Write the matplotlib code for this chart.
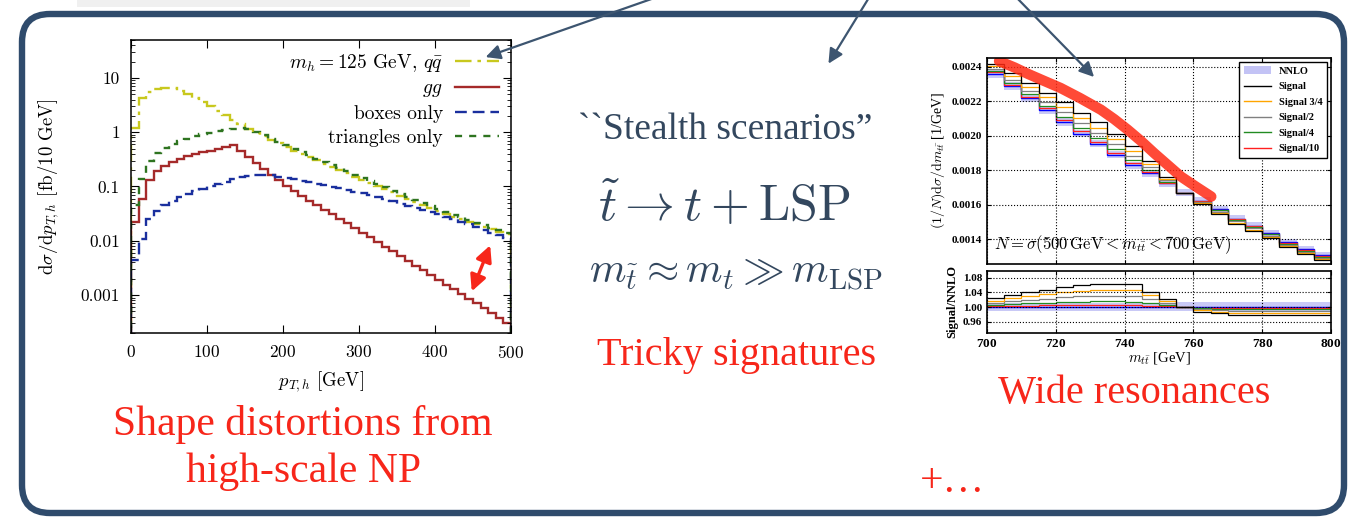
import numpy as np
import matplotlib
matplotlib.use("Agg")
import matplotlib.pyplot as plt
from matplotlib.patches import FancyBboxPatch, Rectangle, Patch
from matplotlib.lines import Line2D
from matplotlib.ticker import FixedLocator, FuncFormatter, LogLocator, NullFormatter

plt.rcParams['mathtext.fontset'] = 'cm'
plt.rcParams['axes.formatter.use_mathtext'] = True

# ---------------- left panel: pT,h spectra (10 GeV bins, 0-500) ----------------
pt_edges = np.arange(0, 510, 10)
sig_qq = [1.2, 4.3, 5.5, 6.3, 6.6, 6.4, 5.8, 5.0, 4.3, 3.6,
          3.0, 2.5, 2.05, 1.7, 1.4, 1.15, 0.98, 0.84, 0.72, 0.62,
          0.53, 0.46, 0.40, 0.35, 0.305, 0.265, 0.23, 0.20, 0.175, 0.152,
          0.132, 0.116, 0.102, 0.089, 0.078, 0.068, 0.060, 0.052, 0.046, 0.040,
          0.035, 0.031, 0.028, 0.025, 0.0225, 0.020, 0.018, 0.0163, 0.0148, 0.0135]
sig_gg = [0.022, 0.06, 0.13, 0.19, 0.24, 0.28, 0.32, 0.36, 0.40, 0.43,
          0.46, 0.50, 0.54, 0.58, 0.45, 0.35, 0.27, 0.21, 0.165, 0.13,
          0.10, 0.082, 0.067, 0.055, 0.045, 0.037, 0.031, 0.025, 0.021, 0.017,
          0.014, 0.0115, 0.0094, 0.0077, 0.0064, 0.0052, 0.0043, 0.0035, 0.0029, 0.0023,
          0.0019, 0.00155, 0.00127, 0.00104, 0.00085, 0.00070, 0.00057, 0.00047, 0.00038, 0.00031]
sig_box = [0.0045, 0.011, 0.025, 0.035, 0.045, 0.055, 0.064, 0.073, 0.082, 0.091,
           0.10, 0.11, 0.12, 0.135, 0.15, 0.158, 0.163, 0.164, 0.16, 0.152,
           0.143, 0.135, 0.127, 0.119, 0.112, 0.105, 0.098, 0.092, 0.086, 0.080,
           0.075, 0.069, 0.063, 0.058, 0.053, 0.048, 0.044, 0.041, 0.037, 0.034,
           0.031, 0.028, 0.025, 0.0225, 0.020, 0.018, 0.0159, 0.0142, 0.0126, 0.0112]
sig_tri = [0.045, 0.14, 0.30, 0.42, 0.52, 0.60, 0.68, 0.76, 0.84, 0.91,
           0.98, 1.04, 1.10, 1.15, 1.18, 1.16, 1.02, 0.88, 0.76, 0.66,
           0.57, 0.49, 0.43, 0.375, 0.325, 0.285, 0.245, 0.215, 0.19, 0.165,
           0.143, 0.126, 0.110, 0.096, 0.084, 0.074, 0.065, 0.057, 0.050, 0.044,
           0.038, 0.034, 0.030, 0.027, 0.024, 0.0215, 0.0192, 0.0172, 0.0155, 0.0140]
left_labels = [r"$m_h = 125$ GeV, $q\bar{q}$", r"$gg$", "boxes only", "triangles only"]
left_colors = ['#c8c81e', '#a52a2a', '#1a2f9e', '#2e7420']
left_dashes = [(7, 2.5, 1.5, 2.5), None, (5, 2.5), (3, 3)]

# ---------------- right panel: m_tt (5 GeV bins, 700-800) ----------------
mtt_edges = np.arange(700, 805, 5)
nnlo = [0.002360, 0.002287, 0.002217, 0.002148, 0.002081, 0.002012, 0.001953, 0.001890,
        0.001828, 0.001780, 0.001722, 0.001668, 0.001622, 0.001572, 0.001518, 0.001476,
        0.001434, 0.001380, 0.001340, 0.001305]
nnlo_lo = [0.989] * 11 + [0.990] * 9
nnlo_hi = [1.010] * 11 + [1.014] * 9
r_signal = [1.024, 1.033, 1.040, 1.047, 1.054, 1.060, 1.063, 1.063, 1.062, 1.042,
            1.022, 1.001, 0.988, 0.983, 0.980, 0.980, 0.980, 0.980, 0.980, 0.980]
r_sig34 = [1.018, 1.025, 1.030, 1.035, 1.040, 1.045, 1.047, 1.047, 1.046, 1.032,
           1.016, 1.001, 0.991, 0.987, 0.985, 0.985, 0.985, 0.985, 0.985, 0.985]
r_sig2 = [1.012, 1.016, 1.020, 1.023, 1.027, 1.030, 1.031, 1.031, 1.030, 1.021,
          1.011, 1.000, 0.994, 0.991, 0.990, 0.990, 0.990, 0.990, 0.990, 0.990]
r_sig4 = [1.006, 1.008, 1.010, 1.012, 1.013, 1.015, 1.016, 1.016, 1.015, 1.011,
          1.006, 1.000, 0.997, 0.996, 0.995, 0.995, 0.995, 0.995, 0.995, 0.995]
r_sig10 = [1.003, 1.003, 1.004, 1.005, 1.005, 1.006, 1.006, 1.006, 1.006, 1.004,
           1.002, 1.000, 0.999, 0.998, 0.998, 0.998, 0.998, 0.998, 0.998, 0.998]
sig_labels = ["Signal", "Signal 3/4", "Signal/2", "Signal/4", "Signal/10"]
sig_colors = ['black', '#ffa500', '#808080', '#228b22', '#ff2020']

# hand-drawn red stroke over the right plot
scribble_x = [703.5, 708, 712, 716.5, 721.4, 727, 733.1, 737, 740.9, 744.8, 748.6,
              752.5, 756.4, 760.8, 765.2]
scribble_y = [0.002432, 0.002395, 0.002357, 0.002318, 0.002276, 0.002218, 0.002150,
              0.002095, 0.002034, 0.001968, 0.001898, 0.001830, 0.001762, 0.001703, 0.001646]

SLIDE = '#33475e'
RED = '#f7261a'

fig = plt.figure(figsize=(13.56, 5.19), dpi=100)

# ---- left plot ----
ax = fig.add_axes([131 / 1356, 1 - 333 / 519, 380 / 1356, 293 / 519])
series = [sig_qq, sig_gg, sig_box, sig_tri]
handles = []
for vals, col, ds, lab in zip(series, left_colors, left_dashes, left_labels):
    st = ax.stairs(vals, pt_edges, baseline=1e-7, color=col, lw=1.7)
    if ds is not None:
        st.set_linestyle((0, ds))
    h = Line2D([], [], color=col, lw=1.7, linestyle='-' if ds is None else (0, ds))
    handles.append(h)
ax.set_yscale('log')
ax.set_xlim(0, 500)
ax.set_ylim(2.0e-4, 50)
ax.xaxis.set_major_locator(FixedLocator([0, 100, 200, 300, 400, 500]))
ax.yaxis.set_major_locator(FixedLocator([0.001, 0.01, 0.1, 1, 10]))
ax.yaxis.set_major_formatter(FuncFormatter(lambda v, p: '%g' % v))
ax.yaxis.set_minor_locator(LogLocator(base=10, subs=np.arange(2, 10)))
ax.yaxis.set_minor_formatter(NullFormatter())
ax.tick_params(which='both', direction='in', top=True, right=True, labelsize=12.5, pad=8)
ax.tick_params(which='major', length=6)
ax.tick_params(which='minor', length=3)
for lab in ax.get_xticklabels() + ax.get_yticklabels():
    lab.set_fontfamily('cmr10')
for s in ax.spines.values():
    s.set_linewidth(1.1)
ax.set_xlabel(r"$p_{T,h}$ [GeV]", fontsize=13.5, fontfamily='cmr10', labelpad=6)
ax.set_ylabel(r"$\mathrm{d}\sigma/\mathrm{d}p_{T,h}$ [fb/10 GeV]", fontsize=13.5,
              fontfamily='cmr10', labelpad=14)
ax.legend(handles, left_labels, loc='upper right', frameon=False, markerfirst=False,
          prop={'family': 'cmr10', 'size': 14}, handlelength=2.3, labelspacing=0.3,
          borderaxespad=0.2, handletextpad=0.6)
ax.annotate('', xy=(474, 0.0092), xytext=(447, 0.00105),
            arrowprops=dict(arrowstyle='<|-|>', color=RED, lw=2.4, mutation_scale=24))

# ---- right plot: main panel ----
axm = fig.add_axes([987 / 1356, 1 - 264 / 519, 344 / 1356, 206 / 519])
nn = np.array(nnlo)
axm.stairs(nn * np.array(nnlo_hi), mtt_edges, baseline=nn * np.array(nnlo_lo),
           fill=True, color='#c3c3f5', alpha=0.9, lw=0)
axm.stairs(nn, mtt_edges, baseline=None, color='#0000ff', lw=1.0)
ratios = [r_signal, r_sig34, r_sig2, r_sig4, r_sig10]
for r, col in zip(ratios[::-1], sig_colors[::-1]):
    axm.stairs(nn * np.array(r), mtt_edges, baseline=None, color=col, lw=0.9)
axm.plot(scribble_x, scribble_y, color='#ff2a14', lw=7.5, alpha=0.85,
         solid_capstyle='round', solid_joinstyle='round')
axm.set_xlim(700, 800)
axm.set_ylim(0.001255, 0.00245)
axm.set_yticks([0.0014, 0.0016, 0.0018, 0.0020, 0.0022, 0.0024])
axm.yaxis.set_major_formatter(FuncFormatter(lambda v, p: '%.4f' % v))
axm.set_xticks([700, 720, 740, 760, 780, 800])
axm.set_xticklabels([])
axm.grid(True, color='black', linestyle=':', lw=0.8)
axm.tick_params(direction='in', top=True, right=True, length=3, labelsize=8)
for lab in axm.get_yticklabels():
    lab.set_fontfamily('Liberation Serif')
    lab.set_fontweight('bold')
for s in axm.spines.values():
    s.set_linewidth(1.2)
axm.set_ylabel(r"$(1/N)\mathrm{d}\sigma/\mathrm{d}m_{t\bar{t}}$ [1/GeV]", fontsize=10,
               fontfamily='Liberation Serif', labelpad=3)
axm.text(0.02, 0.04, r"$N = \sigma(500\,\mathrm{GeV} < m_{t\bar{t}} < 700\,\mathrm{GeV})$",
         transform=axm.transAxes, fontsize=12, ha='left', va='bottom')
leg_h = [Patch(facecolor='#c3c3f5', edgecolor='none')]
leg_h += [Line2D([], [], color=c, lw=1.0) for c in sig_colors]
axm.legend(leg_h, ["NNLO"] + sig_labels, loc='upper right', fancybox=False,
           edgecolor='black', framealpha=1,
           prop={'family': 'Liberation Serif', 'weight': 'bold', 'size': 7.5},
           handlelength=2.6, labelspacing=0.6, borderaxespad=0.4)
axm.get_legend().get_frame().set_linewidth(1.0)

# ---- right plot: ratio panel ----
axr = fig.add_axes([987 / 1356, 1 - 333 / 519, 344 / 1356, 62 / 519])
axr.stairs(nnlo_hi, mtt_edges, baseline=nnlo_lo, fill=True, color='#c3c3f5', alpha=0.9, lw=0)
axr.stairs(np.ones(len(nnlo)), mtt_edges, baseline=None, color='#0000ff', lw=1.0)
for r, col in zip(ratios[::-1], sig_colors[::-1]):
    axr.stairs(r, mtt_edges, baseline=None, color=col, lw=0.9)
axr.set_xlim(700, 800)
axr.set_ylim(0.93, 1.098)
axr.set_yticks([0.96, 1.00, 1.04, 1.08])
axr.yaxis.set_major_formatter(FuncFormatter(lambda v, p: '%.2f' % v))
axr.set_xticks([700, 720, 740, 760, 780, 800])
axr.grid(True, color='black', linestyle=':', lw=0.8)
axr.tick_params(direction='in', top=True, right=True, length=3, labelsize=8)
axr.tick_params(axis='x', labelsize=9.5)
for lab in axr.get_yticklabels() + axr.get_xticklabels():
    lab.set_fontfamily('Liberation Serif')
    lab.set_fontweight('bold')
for s in axr.spines.values():
    s.set_linewidth(1.2)
axr.set_ylabel("Signal/NNLO", fontsize=9, fontfamily='Liberation Serif',
               fontweight='bold', labelpad=3)
axr.set_xlabel(r"$m_{t\bar{t}}$ [GeV]", fontsize=10.5, fontfamily='Liberation Serif', labelpad=0)

# ---- slide overlay (pixel coordinates) ----
ov = fig.add_axes([0, 0, 1, 1])
ov.set_xlim(0, 1356)
ov.set_ylim(519, 0)
ov.axis('off')
ov.patch.set_alpha(0)
ov.set_zorder(10)
ov.add_patch(Rectangle((77, 0), 393, 7, color='#f0f0f0', lw=0))
ov.add_patch(FancyBboxPatch((22, 14), 1322, 499, boxstyle='round,pad=0,rounding_size=28',
                            lw=4.6, ec='#2f4b6c', fc='none'))
arrow_kw = dict(arrowstyle='-|>', color='#3d5570', lw=1.6, mutation_scale=22)
ov.annotate('', xy=(483, 58), xytext=(660, -4), arrowprops=arrow_kw)
ov.annotate('', xy=(827, 66), xytext=(870, -4), arrowprops=arrow_kw)
ov.annotate('', xy=(1096, 79), xytext=(1015, -4), arrowprops=arrow_kw)

ov.text(725, 130, "``Stealth scenarios\u201d", color=SLIDE, fontsize=27,
        fontfamily='Liberation Serif', ha='center', va='center')
ov.text(724, 206, r"$\tilde{t} \to t + \mathrm{LSP}$", color=SLIDE, fontsize=36,
        ha='center', va='center')
ov.text(736, 272, r"$m_{\tilde{t}} \approx m_t \gg m_{\mathrm{LSP}}$", color=SLIDE,
        fontsize=30, ha='center', va='center')
ov.text(737, 355, "Tricky signatures", color=RED, fontsize=29,
        fontfamily='Liberation Serif', ha='center', va='center')
ov.text(1134, 393, "Wide resonances", color=RED, fontsize=29,
        fontfamily='Liberation Serif', ha='center', va='center')
ov.text(303, 424, "Shape distortions from", color=RED, fontsize=30,
        fontfamily='Liberation Serif', ha='center', va='center')
ov.text(303, 472, "high-scale NP", color=RED, fontsize=30,
        fontfamily='Liberation Serif', ha='center', va='center')
ov.text(952, 482, "+\u2026", color=RED, fontsize=30,
        fontfamily='Liberation Serif', ha='center', va='center')

fig.savefig("out.png", dpi=100)
